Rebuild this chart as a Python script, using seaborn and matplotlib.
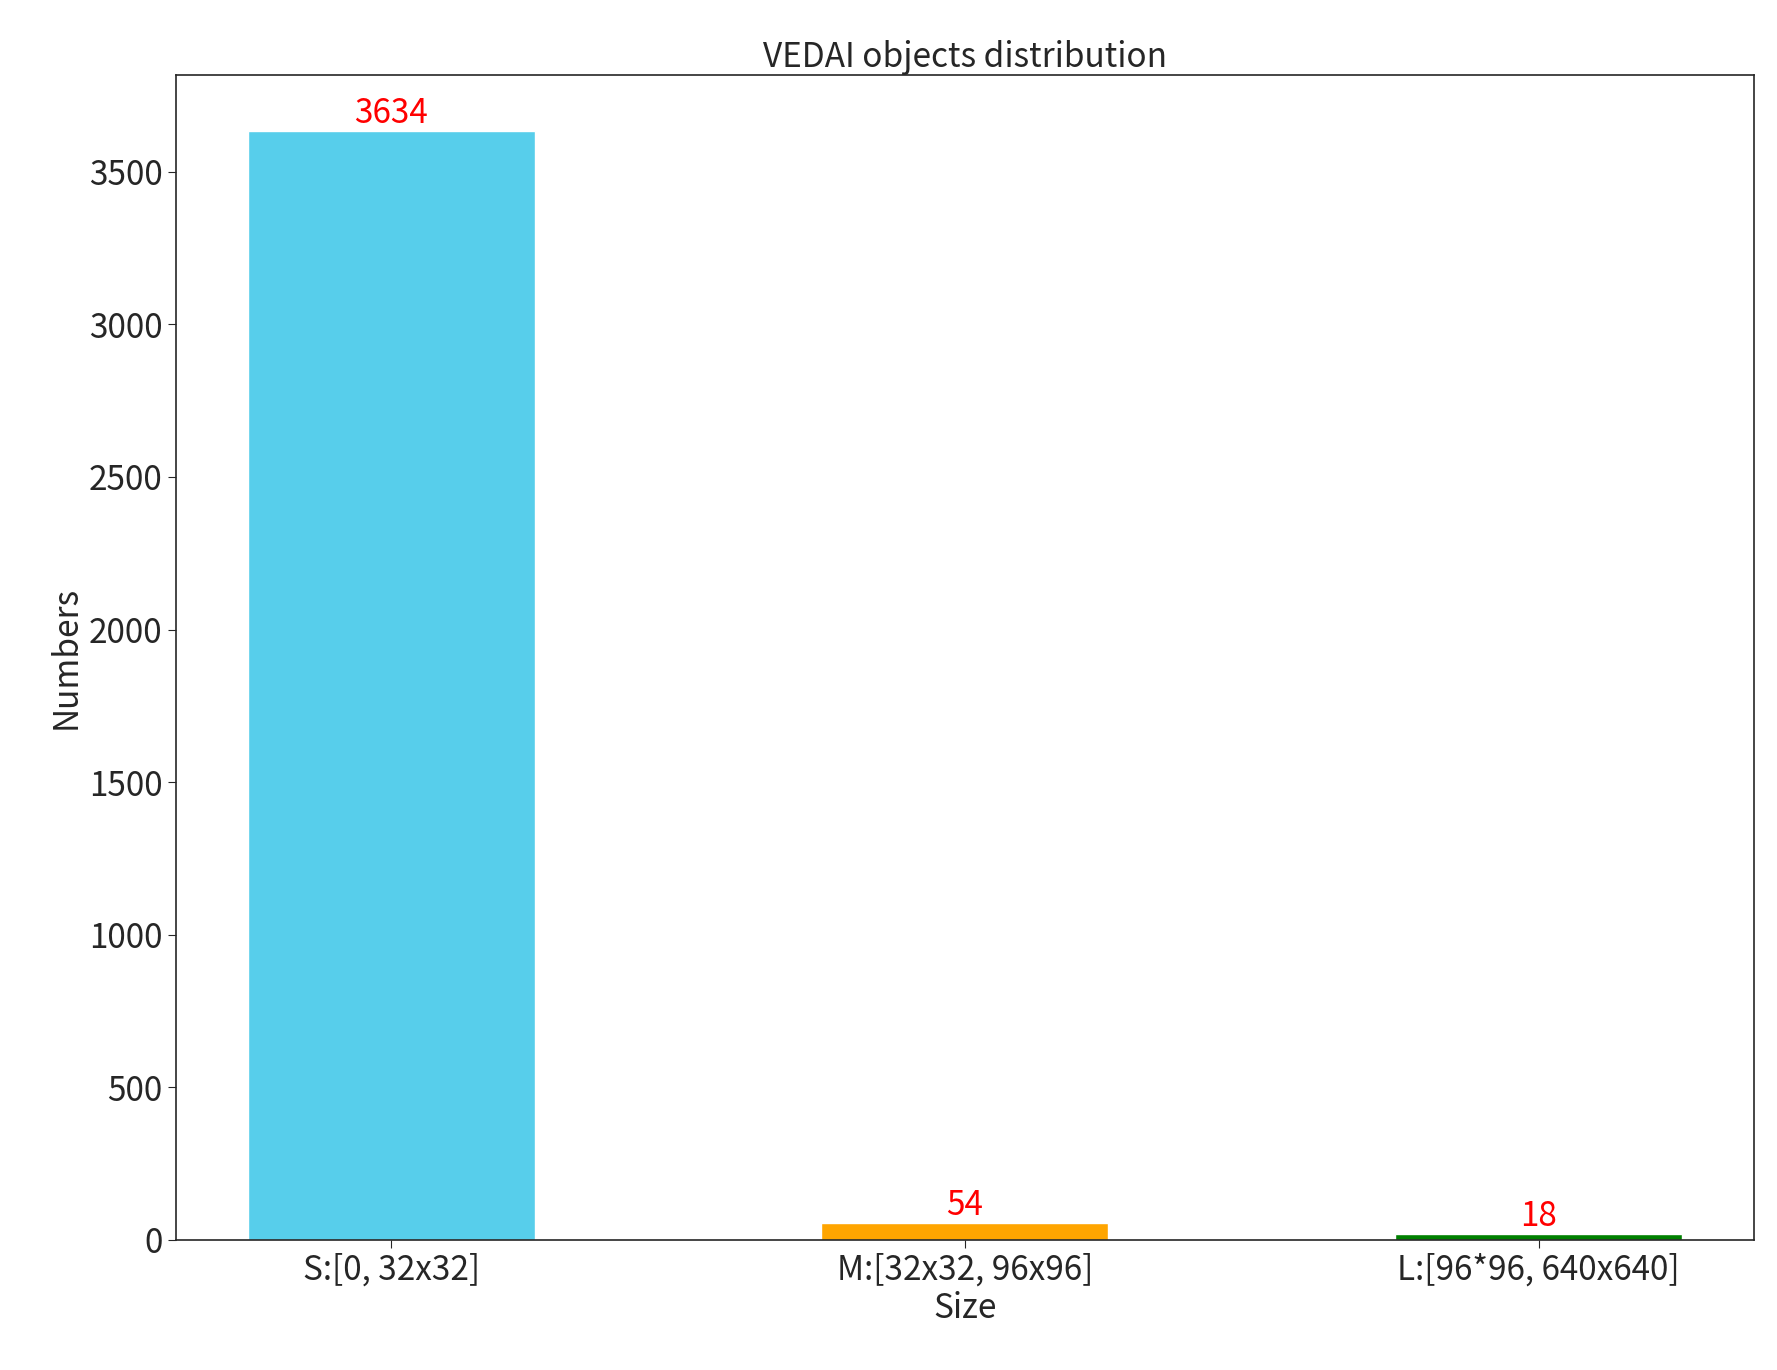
import matplotlib
matplotlib.use("Agg")
import matplotlib.pyplot as plt
import seaborn as sns
import pandas as pd

categories = ["S:[0, 32x32]", "M:[32x32, 96x96]", "L:[96*96, 640x640]"]
values = [3634, 54, 18]
colors = ["#57CEEB", "#FFA500", "#008000"]

sns.set_style("ticks")
plt.rcParams['font.family'] = ['Noto Sans CJK SC', 'DejaVu Sans']

df = pd.DataFrame({"Size": categories, "Numbers": values})
fig = plt.figure(figsize=(17.77, 13.70), dpi=100)
ax = fig.add_axes([0.099, 0.095, 0.888, 0.85])
sns.barplot(data=df, x="Size", y="Numbers", hue="Size", palette=colors, width=0.5,
            legend=False, ax=ax, saturation=1)
for i, v in enumerate(values):
    ax.text(i, v, str(v), color="red", ha="center", va="bottom", fontsize=24)
ax.set_ylim(0, 3816)
ax.set_xlim(-0.375, 2.375)
ax.set_title("VEDAI objects distribution", fontsize=24)
ax.set_xlabel("Size", fontsize=24, labelpad=2)
ax.set_ylabel("Numbers", fontsize=24)
ax.tick_params(labelsize=24, length=6)
for s in ax.spines.values():
    s.set_visible(True)
    s.set_linewidth(1.2)
fig.savefig("out.png", dpi=100)
